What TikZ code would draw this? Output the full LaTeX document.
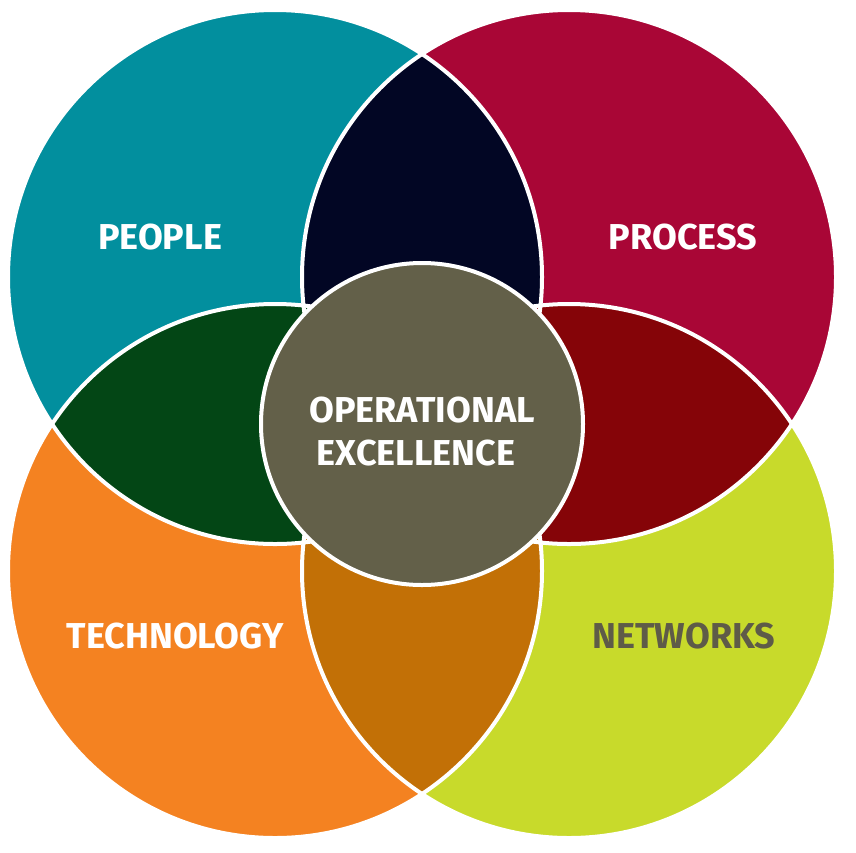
\documentclass[tikz,border=0pt]{standalone}
\usepackage{fontspec}
\setmainfont{Fira Sans}
\definecolor{cteal}{HTML}{028F9E}
\definecolor{ccrim}{HTML}{A90636}
\definecolor{corange}{HTML}{F48221}
\definecolor{clime}{HTML}{C8DA2B}
\definecolor{cnavy}{HTML}{020624}
\definecolor{cdgreen}{HTML}{034615}
\definecolor{cdred}{HTML}{850408}
\definecolor{cdorange}{HTML}{C27006}
\definecolor{ccenter}{HTML}{636049}
\definecolor{ctext}{HTML}{5E5B48}
\begin{document}
\begin{tikzpicture}[x=1pt,y=-1pt,
  lbl/.style={font=\bfseries\fontsize{36}{36}\selectfont, text=white, inner sep=0pt},
  rim/.style={draw=white, line width=4pt}]
\useasboundingbox (0,0) rectangle (856,852);
\fill[white] (0,0) rectangle (856,852);
\def\R{267}
\coordinate (tl) at (275,277);
\coordinate (tr) at (569,277);
\coordinate (bl) at (275,571);
\coordinate (br) at (569,571);
\coordinate (cc) at (422,424);
% main circles
\fill[cteal] (tl) circle (\R);
\fill[ccrim] (tr) circle (\R);
\fill[corange] (bl) circle (\R);
\fill[clime] (br) circle (\R);
% lenses
\begin{scope}\clip (tl) circle (\R); \fill[cnavy] (tr) circle (\R);\end{scope}
\begin{scope}\clip (tl) circle (\R); \fill[cdgreen] (bl) circle (\R);\end{scope}
\begin{scope}\clip (tr) circle (\R); \fill[cdred] (br) circle (\R);\end{scope}
\begin{scope}\clip (bl) circle (\R); \fill[cdorange] (br) circle (\R);\end{scope}
% white outlines
\draw[rim] (tl) circle (\R);
\draw[rim] (tr) circle (\R);
\draw[rim] (bl) circle (\R);
\draw[rim] (br) circle (\R);
% center
\node[circle, fill=ccenter, draw=white, line width=4pt, minimum size=322pt, inner sep=0pt] (center) at (cc) {};
\node[lbl] (ol1) at (422,410) {OPERATIONAL};
\node[lbl] (ol2) at (416,453) {EXCELLENCE};
\node[lbl] (people) at (160,237) {PEOPLE};
\node[lbl] (process) at (683,237) {PROCESS};
\node[lbl] (tech) at (175,636) {TECHNOLOGY};
\node[lbl, text=ctext] (net) at (684,636) {NETWORKS};
\end{tikzpicture}
\end{document}
